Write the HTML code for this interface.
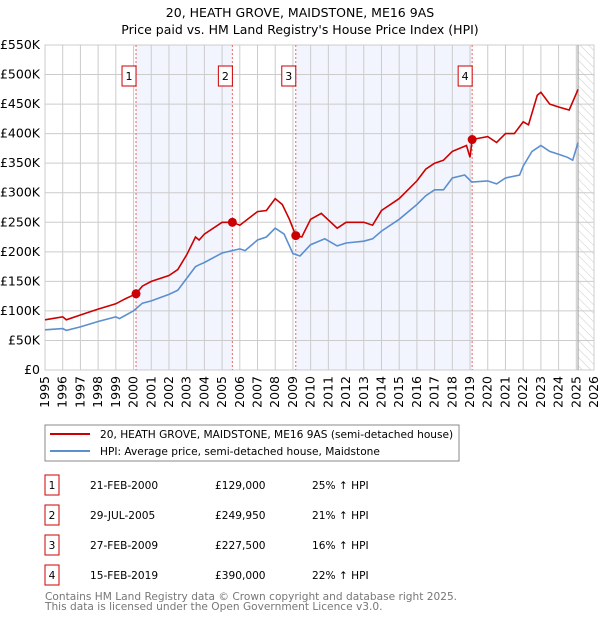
<!DOCTYPE html>
<html><head><meta charset="utf-8"><style>
body{margin:0;background:#fff;font-family:"Liberation Sans","DejaVu Sans",sans-serif;}
svg text{font-family:"DejaVu Sans","Liberation Sans",sans-serif;}
</style></head><body>
<svg id="c" width="600" height="620" xmlns="http://www.w3.org/2000/svg">
<defs><pattern id="hatch" width="6" height="6" patternUnits="userSpaceOnUse" patternTransform="rotate(-45)"><line x1="0" y1="0" x2="0" y2="6" stroke="#ccc" stroke-width="1"/></pattern></defs>
<text x="300" y="17" text-anchor="middle" font-size="12.5">20, HEATH GROVE, MAIDSTONE, ME16 9AS</text>
<text x="300" y="34" text-anchor="middle" font-size="12.5">Price paid vs. HM Land Registry's House Price Index (HPI)</text>
<g id="plot"></g>
<rect x="45" y="425" width="414" height="36" fill="none" stroke="#888"/>
<line x1="50" y1="434" x2="90" y2="434" stroke="#cc0000" stroke-width="2"/>
<text x="100" y="438" font-size="10.6">20, HEATH GROVE, MAIDSTONE, ME16 9AS (semi-detached house)</text>
<line x1="50" y1="451" x2="90" y2="451" stroke="#5b8fd0" stroke-width="2"/>
<text x="100" y="455" font-size="10.6">HPI: Average price, semi-detached house, Maidstone</text>
<g id="tbl" font-size="10.6"></g>
<text x="45" y="600" font-size="10.6" fill="#777">Contains HM Land Registry data © Crown copyright and database right 2025.</text>
<text x="45" y="610" font-size="10.6" fill="#777">This data is licensed under the Open Government Licence v3.0.</text>
</svg>
<script>
const hpiYears=[1995,1996,1996.2,1997,1998,1999,1999.2,2000,2000.5,2001,2002,2002.5,2003,2003.5,2003.7,2004,2005,2006,2006.3,2007,2007.5,2008,2008.5,2009,2009.4,2010,2010.8,2011.5,2012,2013,2013.5,2014,2015,2016,2016.5,2017,2017.5,2018,2018.7,2019.1,2020,2020.5,2021,2021.8,2022,2022.5,2023,2023.5,2024,2024.5,2024.8,2025.1];
const hpiValues=[68,70,67,73,82,90,87,100,113,117,128,135,155,175,178,182,198,205,202,220,225,240,230,197,193,212,222,210,215,218,222,235,255,280,295,305,305,325,330,318,320,315,325,330,345,370,380,370,365,360,355,385];
const priceYears=[1995,1996,1996.2,1997,1998,1999,1999.5,2000.13,2000.5,2001,2002,2002.5,2003,2003.5,2003.7,2004,2005,2005.58,2006,2007,2007.5,2008,2008.4,2008.8,2009.16,2009.5,2010,2010.6,2011.5,2012,2013,2013.5,2014,2015,2016,2016.5,2017,2017.5,2018,2018.8,2019.0,2019.12,2020,2020.5,2021,2021.5,2022,2022.3,2022.8,2023,2023.5,2024,2024.6,2025.1];
const priceValues=[85,90,85,93,103,112,120,129,142,150,160,170,195,225,220,230,250,250,245,268,270,290,280,255,227.5,225,255,265,240,250,250,245,270,290,320,340,350,355,370,380,360,390,395,385,400,400,420,415,465,470,450,445,440,475];
const saleLabels=["1","2","3","4"];
const saleYears=[2000.14,2005.58,2009.16,2019.12];
const salePrices=[129,249.95,227.5,390];
const saleDates=["21-FEB-2000","29-JUL-2005","27-FEB-2009","15-FEB-2019"];
const salePriceText=["£129,000","£249,950","£227,500","£390,000"];
const saleHpiText=["25% ↑ HPI","21% ↑ HPI","16% ↑ HPI","22% ↑ HPI"];
const yTicks=[0,50,100,150,200,250,300,350,400,450,500,550];
const yTickLabels=["£0","£50K","£100K","£150K","£200K","£250K","£300K","£350K","£400K","£450K","£500K","£550K"];
const xTicks=[1995,1996,1997,1998,1999,2000,2001,2002,2003,2004,2005,2006,2007,2008,2009,2010,2011,2012,2013,2014,2015,2016,2017,2018,2019,2020,2021,2022,2023,2024,2025,2026];
const X0=45,X1=594,Y0=370,Y1=45;
const xs=y=>X0+(y-1995)/(2026-1995)*(X1-X0);
const ys=v=>Y0-v/550*(Y0-Y1);
const NS="http://www.w3.org/2000/svg";
const plot=document.getElementById('plot');
function mk(tag,attrs,parent){const e=document.createElementNS(NS,tag);for(const k in attrs)e.setAttribute(k,attrs[k]);(parent||plot).appendChild(e);return e;}
let r=mk('rect',{x:xs(saleYears[0]),y:Y1,width:xs(saleYears[1])-xs(saleYears[0]),height:Y0-Y1,fill:'#f2f5fd'});


r=mk('rect',{x:xs(saleYears[2]),y:Y1,width:xs(saleYears[3])-xs(saleYears[2]),height:Y0-Y1,fill:'#f2f5fd'});


r=mk('rect',{x:xs(2025.1),y:Y1,width:X1-xs(2025.1),height:Y0-Y1,fill:'url(#hatch)'});


yTicks.forEach((t,i)=>{
 const l=mk('line',{x1:X0,x2:X1,y1:ys(t),y2:ys(t),stroke:'#ccc'});
 
 
 const tx=mk('text',{x:40,y:ys(t)+4,'text-anchor':'end','font-size':'12.5'});tx.textContent=yTickLabels[i];
 
 
});
xTicks.forEach(t=>{
 const l=mk('line',{x1:xs(t),x2:xs(t),y1:Y1,y2:Y0,stroke:'#ccc'});
 
 
 const tx=mk('text',{x:0,y:0,'font-size':'12.5','text-anchor':'end',transform:`translate(${xs(t)+4},${Y0+6}) rotate(-90)`});tx.textContent=t;
 
 
});
r=mk('rect',{x:X0,y:Y1,width:X1-X0,height:Y0-Y1,fill:'none',stroke:'#ccc'});


let ln=mk('line',{x1:xs(2025.1),x2:xs(2025.1),y1:Y1,y2:Y0,stroke:'#999'});


saleYears.forEach((y,i)=>{
 const l=mk('line',{x1:xs(y),x2:xs(y),y1:Y1,y2:Y0,stroke:'#e66','stroke-dasharray':'2,2'});
 
 
 const b=mk('rect',{x:xs(y)-14,y:66,width:14,height:20,fill:'#fff',stroke:'#c00'});
 
 
 const t=mk('text',{x:xs(y)-7,y:80,'text-anchor':'middle','font-size':'11'});t.textContent=saleLabels[i];
 
 
});
function path(xa,va,col,name){
 const d=xa.map((x,i)=>(i?'L':'M')+xs(x).toFixed(1)+','+ys(va[i]).toFixed(1)).join('');
 const p=mk('path',{d:d,fill:'none',stroke:col,'stroke-width':1.6});
 
 
}
path(hpiYears,hpiValues,'#5b8fd0','hpi-line');
path(priceYears,priceValues,'#cc0000','price-line');
saleYears.forEach((y,i)=>{
 const c=mk('circle',{cx:xs(y),cy:ys(salePrices[i]),r:4.5,fill:'#cc0000'});
 
 
});
const tbl=document.getElementById('tbl');
saleLabels.forEach((s,i)=>{
 const cy=485+i*30;
 const b=mk('rect',{x:45,y:cy-10,width:14,height:20,fill:'none',stroke:'#c00'},tbl);
 
 
 const cells=[[52,s,'middle'],[90,saleDates[i],'start'],[215,salePriceText[i],'start'],[312,saleHpiText[i],'start']];
 cells.forEach((c,j)=>{
  const t=mk('text',{x:c[0],y:cy+4,'text-anchor':c[2]},tbl);t.textContent=c[1];
  
  
 });
});
</script>
</body></html>
